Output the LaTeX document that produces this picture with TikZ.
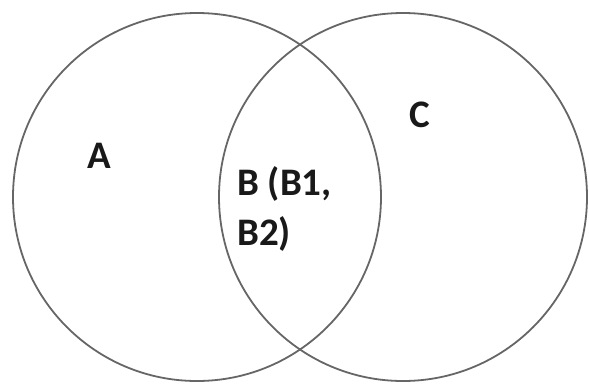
\documentclass[tikz,border=0pt]{standalone}
\usepackage{fontspec}
\setmainfont{Carlito}
\begin{document}
\begin{tikzpicture}[x=1bp,y=-1bp,
  setcircle/.style={draw=black!60,line width=1.8bp},
  lbl/.style={anchor=base west,inner sep=0pt,font=\fontsize{39bp}{50bp}\selectfont\bfseries,text=black!90}]
\useasboundingbox (0,0) rectangle (589,383);
\node[setcircle,circle,minimum size=368bp,inner sep=0pt] (setA) at (197,197) {};
\node[setcircle,circle,minimum size=368bp,inner sep=0pt] (setC) at (403,197) {};
\node[lbl] (la) at (87,168) {A};
\node[lbl] (lc) at (409,127) {C};
\node[lbl] (lb1) at (237,195) {B (B1,};
\node[lbl] (lb2) at (237,245) {B2)};
\end{tikzpicture}
\end{document}
